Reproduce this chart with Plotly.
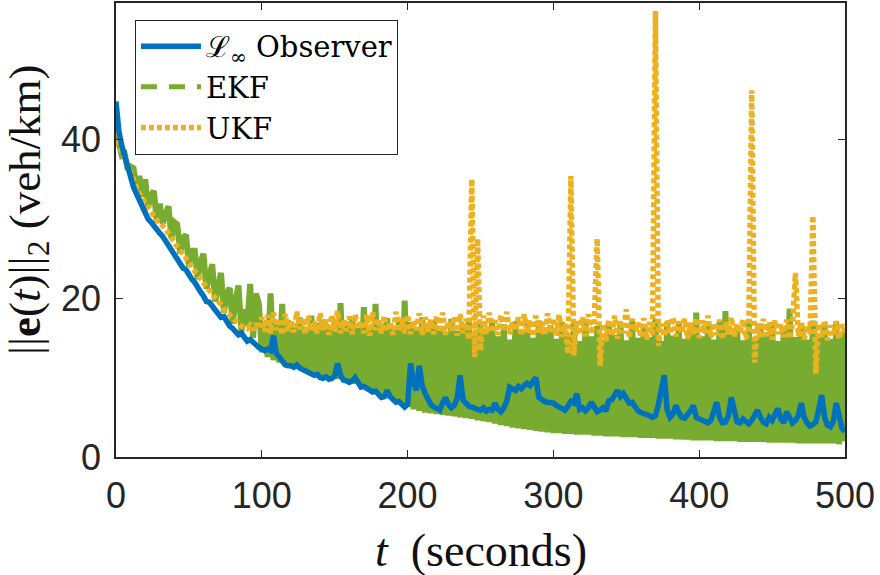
import plotly.graph_objects as go

# time grid (seconds), 2 s spacing
t = list(range(0, 501, 2))

# L-infinity observer error norm
l_inf = [
    44.8, 41.0, 39.2, 37.8, 36.4, 35.2, 34.0, 33.2, 32.4, 31.6,
    30.6, 30.0, 29.6, 29.1, 28.5, 28.2, 27.8, 27.2, 26.7, 26.0,
    25.3, 25.0, 24.4, 23.8, 23.6, 22.9, 22.4, 22.0, 21.3, 20.8,
    20.3, 19.6, 19.5, 19.0, 18.7, 18.2, 17.6, 17.7, 17.0, 16.5,
    16.2, 15.9, 15.4, 15.6, 15.0, 14.6, 14.8, 14.4, 14.2, 13.8,
    13.6, 13.4, 13.6, 13.4, 15.3, 13.0, 12.6, 12.0, 11.6, 11.5,
    11.5, 11.3, 11.6, 11.2, 11.0, 10.9, 10.7, 10.5, 10.3, 10.4,
    10.0, 9.9, 10.1, 9.8, 9.9, 10.2, 11.8, 10.3, 9.7, 9.6,
    9.4, 9.6, 10.0, 9.4, 8.8, 8.9, 8.6, 8.4, 8.2, 8.3,
    7.9, 7.5, 7.6, 8.4, 7.6, 7.2, 6.9, 7.0, 6.6, 6.3,
    6.6, 11.8, 9.5, 8.4, 11.5, 9.0, 8.0, 7.2, 6.6, 6.3,
    6.0, 5.9, 6.8, 7.5, 6.6, 6.2, 6.5, 7.4, 10.3, 7.2,
    6.8, 6.4, 6.3, 6.1, 6.0, 5.9, 6.2, 5.8, 6.0, 5.9,
    6.8, 6.0, 5.7, 6.2, 7.0, 8.8, 8.5, 8.4, 8.9, 8.6,
    9.0, 9.3, 9.0, 9.4, 10.0, 7.5, 7.2, 7.0, 6.9, 6.8,
    6.8, 6.5, 6.3, 6.0, 5.9, 6.4, 7.0, 6.8, 8.0, 6.0,
    6.2, 5.8, 6.2, 6.9, 6.4, 5.7, 5.9, 6.2, 5.8, 7.1,
    7.2, 7.8, 8.4, 7.6, 8.0, 7.4, 6.8, 6.9, 6.2, 5.8,
    5.6, 5.5, 5.3, 5.2, 5.0, 5.2, 6.6, 8.5, 10.3, 6.0,
    5.0, 5.4, 6.5, 5.6, 5.0, 4.9, 5.3, 5.8, 6.5, 5.0,
    4.8, 4.6, 4.4, 4.3, 4.6, 5.8, 6.9, 5.0, 4.3, 4.4,
    5.2, 7.5, 5.6, 4.4, 4.3, 4.8, 4.5, 4.2, 4.6, 5.4,
    5.9, 5.0, 4.4, 4.2, 5.0, 4.6, 5.2, 6.1, 4.8, 4.3,
    5.7, 5.0, 4.3, 4.6, 5.2, 6.8, 5.0, 4.3, 3.9, 4.1,
    4.4, 6.0, 7.8, 5.0, 4.0, 3.8, 4.5, 6.8, 5.2, 3.6,
    3.2,
]

# EKF error norm
ekf = [
    41.0, 39.0, 38.0, 38.2, 36.2, 36.6, 36.4, 34.0, 35.4, 32.8,
    35.0, 31.5, 33.0, 33.5, 29.6, 31.9, 29.4, 30.6, 31.6, 27.6,
    29.6, 29.3, 25.6, 27.6, 28.0, 24.0, 26.0, 26.0, 22.4, 24.6,
    25.6, 21.2, 23.2, 24.3, 19.6, 22.0, 23.2, 18.2, 20.6, 21.3,
    16.8, 19.8, 21.6, 15.8, 18.6, 16.6, 21.8, 15.0, 20.6, 19.3,
    13.2, 17.0, 12.6, 20.6, 12.2, 16.8, 11.9, 19.3, 11.6, 17.2,
    11.4, 16.6, 11.3, 17.6, 11.0, 16.4, 10.9, 17.8, 10.6, 16.9,
    10.2, 17.3, 10.0, 16.5, 9.9, 17.0, 9.8, 19.4, 9.7, 16.7,
    9.4, 17.4, 9.2, 16.3, 8.9, 18.9, 8.6, 16.5, 8.4, 19.3,
    8.0, 16.8, 7.7, 17.5, 7.4, 16.2, 7.0, 17.3, 6.7, 19.7,
    6.3, 17.0, 6.0, 16.4, 5.8, 17.6, 5.6, 16.0, 5.5, 17.2,
    5.4, 16.5, 5.3, 15.6, 5.2, 17.4, 5.1, 15.9, 5.0, 16.8,
    4.9, 17.2, 4.8, 15.4, 4.6, 16.9, 4.5, 15.8, 4.4, 17.3,
    4.2, 15.2, 4.0, 16.7, 3.9, 14.8, 3.7, 17.1, 3.6, 15.6,
    3.5, 16.9, 3.4, 15.0, 3.3, 17.2, 3.2, 15.5, 3.1, 16.6,
    3.0, 14.9, 3.0, 17.0, 2.9, 15.3, 2.9, 16.8, 2.8, 14.6,
    2.8, 17.3, 2.8, 15.2, 2.7, 16.5, 2.7, 14.8, 2.6, 17.0,
    2.6, 15.4, 2.6, 16.9, 2.5, 14.7, 2.5, 17.2, 2.5, 15.0,
    2.4, 16.6, 2.4, 15.1, 2.4, 17.4, 2.3, 14.6, 2.3, 16.8,
    2.3, 15.3, 2.2, 17.0, 2.2, 14.9, 2.2, 16.5, 2.1, 18.2,
    2.1, 15.2, 2.1, 16.8, 2.1, 14.8, 2.0, 17.1, 2.0, 18.4,
    2.0, 15.5, 2.0, 16.6, 1.9, 14.7, 1.9, 17.3, 1.9, 15.0,
    1.9, 16.8, 1.9, 15.2, 1.8, 17.0, 1.8, 14.6, 1.8, 16.5,
    1.8, 18.7, 1.8, 15.1, 1.7, 16.9, 1.7, 14.8, 1.7, 17.2,
    1.7, 15.4, 1.7, 16.7, 1.7, 14.9, 1.7, 17.0, 1.6, 15.8,
    2.0,
]

# UKF error norm
ukf = [
    42.0, 39.5, 38.5, 37.5, 36.6, 35.6, 34.8, 34.0, 33.2, 32.6,
    32.0, 31.4, 31.0, 30.4, 29.8, 29.6, 29.2, 28.6, 28.2, 27.6,
    27.0, 26.4, 26.0, 25.6, 25.0, 24.6, 24.0, 23.4, 23.0, 22.4,
    22.0, 21.4, 21.0, 20.6, 20.0, 19.6, 19.2, 18.6, 18.2, 17.8,
    17.4, 17.0, 16.8, 16.5, 16.4, 16.2, 16.6, 16.0, 16.8, 16.2,
    17.6, 15.8, 17.9, 15.6, 18.2, 16.0, 17.4, 15.4, 18.0, 15.9,
    17.2, 15.7, 18.3, 16.1, 17.5, 15.5, 17.8, 15.9, 17.0, 15.6,
    18.1, 16.0, 17.3, 15.4, 17.9, 15.8, 18.4, 15.6, 17.2, 15.9,
    17.7, 15.5, 18.0, 16.2, 17.1, 15.6, 17.9, 15.3, 18.2, 16.0,
    17.4, 15.6, 17.8, 15.9, 17.0, 15.4, 18.3, 15.8, 17.5, 15.6,
    17.9, 15.5, 17.2, 16.0, 18.1, 15.4, 17.6, 15.8, 17.3, 15.5,
    17.8, 15.7, 18.2, 15.4, 17.1, 15.9, 17.7, 15.3, 18.0, 15.6,
    17.4, 14.8, 35.0, 12.6, 27.5, 13.4, 17.8, 15.5, 18.2, 15.7,
    17.2, 15.4, 17.9, 15.8, 18.3, 15.5, 17.0, 15.9, 17.6, 15.3,
    18.0, 15.6, 17.3, 15.2, 17.8, 15.7, 17.1, 15.4, 18.1, 15.6,
    17.5, 15.3, 17.9, 15.1, 16.8, 13.0, 35.4, 12.8, 17.2, 15.4,
    17.6, 15.2, 18.0, 15.5, 17.0, 27.5, 11.5, 16.8, 14.6, 17.3,
    15.2, 17.8, 14.9, 17.2, 15.6, 18.6, 15.0, 17.4, 15.8, 16.9,
    15.1, 17.5, 14.8, 17.0, 15.3, 56.2, 14.0, 16.8, 15.2, 17.3,
    15.5, 17.6, 15.2, 17.1, 15.6, 17.4, 14.9, 16.9, 15.4, 17.5,
    15.0, 17.2, 15.6, 17.8, 15.1, 16.9, 15.4, 17.3, 14.8, 17.0,
    15.5, 17.6, 15.2, 16.8, 15.6, 17.3, 14.9, 15.8, 46.2, 11.9,
    16.8, 15.0, 17.4, 15.3, 16.9, 14.8, 17.2, 15.5, 16.7, 15.1,
    17.3, 14.9, 16.8, 23.2, 15.2, 17.0, 14.8, 16.6, 15.5, 30.4,
    10.5, 16.8, 15.0, 17.2, 14.7, 16.6, 15.3, 17.1, 14.9, 16.7,
    15.6,
]

x_ticks = [0, 100, 200, 300, 400, 500]
y_ticks = [0, 20, 40]

BLUE = "#0072BD"
ORANGE = "#EDB120"
GREEN = "#77AC30"
AX = "#262626"

fig = go.Figure()
fig.add_trace(go.Scatter(x=t, y=ekf, mode="lines", name="EKF",
                         line=dict(color=GREEN, width=6), showlegend=False,
                         hoverinfo="skip"))
fig.add_trace(go.Scatter(x=t, y=ukf, mode="lines", name="UKF",
                         line=dict(color=ORANGE, width=5.5, dash="5px,3px"),
                         legendrank=3))
fig.add_trace(go.Scatter(x=t, y=l_inf, mode="lines",
                         name="ℒ<sub>∞</sub> Observer",
                         line=dict(color=BLUE, width=5.5), legendrank=1))
# legend entry for EKF (dashed style as in the original)
fig.add_trace(go.Scatter(x=[None], y=[None], mode="lines", name="EKF",
                         line=dict(color=GREEN, width=5, dash="16px,12px"),
                         legendrank=2))

axis_common = dict(
    ticks="inside", ticklen=7, tickwidth=1, tickcolor=AX,
    showline=True, linecolor=AX, linewidth=1.5, mirror="ticks",
    showgrid=False, zeroline=False,
    tickfont=dict(family="Liberation Sans", size=36, color=AX),
)

fig.update_layout(
    width=880, height=575,
    margin=dict(l=116, r=35, t=1, b=118),
    paper_bgcolor="white", plot_bgcolor="white",
    xaxis=dict(range=[0, 500], tickvals=x_ticks, ticklabelstandoff=6, **axis_common),
    yaxis=dict(range=[0, 57.2], tickvals=y_ticks, ticklabelstandoff=6, **axis_common),
    showlegend=True,
    legend=dict(x=0.026, y=0.963, xanchor="left", yanchor="top",
                bordercolor=AX, borderwidth=1, bgcolor="white",
                font=dict(family="DejaVu Serif", size=29, color="black"),
                itemwidth=60, tracegroupgap=0),
    annotations=[
        dict(text="<i>t</i>  (seconds)", xref="paper", yref="paper",
             x=0.5, y=-0.206, xanchor="center", yanchor="middle",
             showarrow=False,
             font=dict(family="Liberation Serif", size=46, color="#111111")),
        dict(text="||<b>e</b>(<i>t</i>)||<sub>2</sub> (veh/km)", xref="paper", yref="paper",
             x=-0.121, y=0.546, xanchor="center", yanchor="middle",
             textangle=-90, showarrow=False,
             font=dict(family="Liberation Serif", size=45, color="#111111")),
    ],
)

fig.write_html("out.html")
